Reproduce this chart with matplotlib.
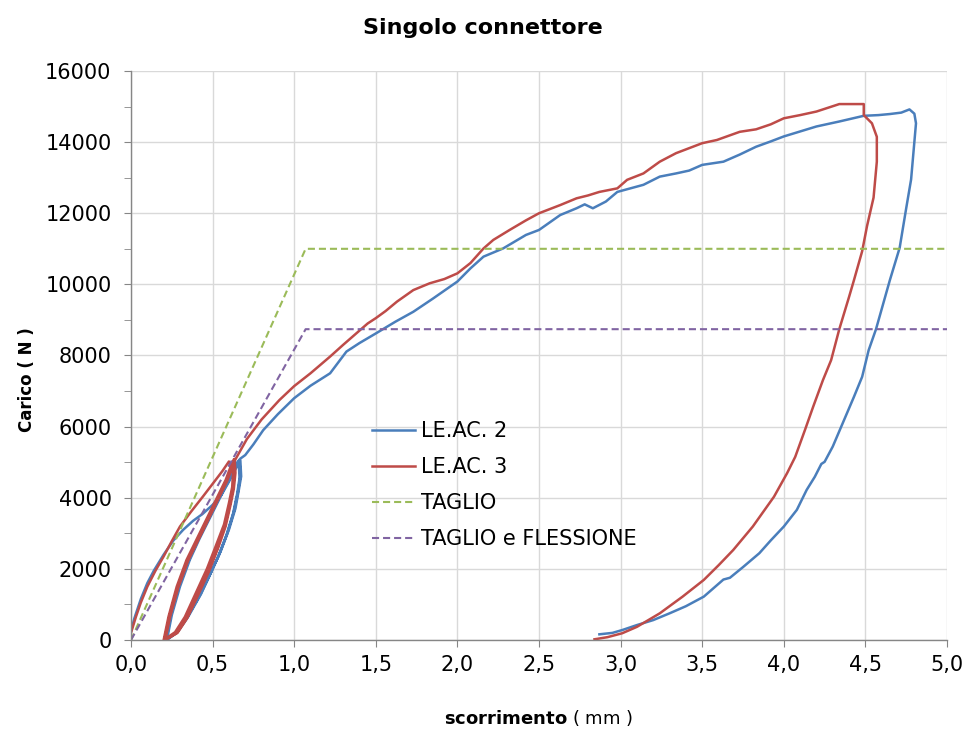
import numpy as np
import matplotlib
matplotlib.use("Agg")
import matplotlib.pyplot as plt
from matplotlib.ticker import MultipleLocator, FuncFormatter

# LE.AC. 2 : first loading, three unload/reload cycles, then loading to failure and unloading
leac2_x = [0.00, 0.02, 0.06, 0.10, 0.14, 0.20, 0.26, 0.32, 0.38, 0.44, 0.50, 0.55, 0.60, 0.64, 0.67,
           0.675, 0.66, 0.64, 0.60, 0.55, 0.49, 0.43, 0.35, 0.29, 0.22,
           0.235, 0.25, 0.30, 0.36, 0.42, 0.48, 0.54, 0.60, 0.64, 0.665,
           0.67, 0.655, 0.63, 0.59, 0.54, 0.48, 0.42, 0.34, 0.28, 0.215,
           0.23, 0.245, 0.29, 0.35, 0.41, 0.47, 0.53, 0.59, 0.63, 0.66,
           0.665, 0.65, 0.625, 0.585, 0.535, 0.475, 0.415, 0.335, 0.275, 0.21,
           0.225, 0.24, 0.285, 0.345, 0.405, 0.465, 0.525, 0.585, 0.625, 0.67,
           0.70, 0.75, 0.81, 0.90, 1.00, 1.10, 1.22, 1.32, 1.40, 1.50, 1.62, 1.73, 1.85,
           2.00, 2.08, 2.16, 2.28, 2.42, 2.50, 2.63, 2.73, 2.78, 2.83, 2.91, 2.98, 3.06,
           3.14, 3.24, 3.34, 3.42, 3.50, 3.63, 3.73, 3.83, 3.92, 4.00, 4.10, 4.20, 4.34,
           4.49, 4.58, 4.65, 4.72, 4.77, 4.80, 4.81, 4.80, 4.79, 4.78, 4.75, 4.71, 4.65,
           4.61, 4.565, 4.52, 4.48, 4.43, 4.36, 4.30, 4.25, 4.23, 4.19, 4.14, 4.08, 4.00,
           3.92, 3.85, 3.75, 3.67, 3.63, 3.51, 3.40, 3.30, 3.20, 3.10, 3.01, 2.95, 2.87]
leac2_y = [250, 600, 1150, 1600, 1950, 2400, 2800, 3100, 3350, 3550, 3800, 4050, 4450, 4800, 5050,
           4600, 4200, 3700, 3100, 2500, 1900, 1300, 650, 250, 0,
           350, 700, 1500, 2250, 2850, 3400, 3950, 4500, 4900, 5050,
           4600, 4150, 3600, 3000, 2400, 1800, 1250, 600, 200, 0,
           350, 700, 1450, 2200, 2800, 3350, 3900, 4450, 4850, 5000,
           4550, 4100, 3550, 2950, 2350, 1750, 1200, 580, 190, 0,
           350, 700, 1450, 2200, 2800, 3350, 3900, 4450, 4850, 5100,
           5200, 5500, 5900, 6350, 6800, 7150, 7500, 8110, 8350, 8620, 8950, 9230, 9600,
           10080, 10450, 10780, 11010, 11390, 11530, 11950, 12140, 12250, 12140, 12330, 12600, 12700,
           12800, 13030, 13120, 13200, 13360, 13450, 13650, 13870, 14020, 14160, 14300, 14440, 14580,
           14740, 14760, 14790, 14830, 14920, 14800, 14530, 14000, 13500, 12950, 12140, 11030, 10120,
           9470, 8740, 8150, 7400, 6840, 6090, 5440, 5010, 4950, 4590, 4220, 3660, 3190,
           2800, 2440, 2050, 1750, 1700, 1220, 950, 750, 560, 420, 280, 200, 160]

# LE.AC. 3
leac3_x = [0.00, 0.03, 0.06, 0.10, 0.15, 0.20, 0.25, 0.30, 0.37, 0.44, 0.51, 0.56, 0.60,
           0.625, 0.62, 0.60, 0.57, 0.52, 0.465, 0.40, 0.33, 0.27, 0.20,
           0.215, 0.23, 0.28, 0.34, 0.40, 0.46, 0.52, 0.58, 0.61, 0.63,
           0.635, 0.625, 0.605, 0.575, 0.53, 0.475, 0.41, 0.34, 0.28, 0.205,
           0.22, 0.235, 0.285, 0.345, 0.405, 0.465, 0.525, 0.585, 0.615, 0.635,
           0.64, 0.63, 0.61, 0.58, 0.535, 0.48, 0.415, 0.345, 0.285, 0.21,
           0.225, 0.24, 0.29, 0.35, 0.41, 0.47, 0.53, 0.59, 0.62, 0.64,
           0.71, 0.80, 0.91, 1.00, 1.10, 1.22, 1.30, 1.38, 1.45, 1.50, 1.56, 1.63, 1.73,
           1.83, 1.92, 2.00, 2.08, 2.16, 2.22, 2.32, 2.42, 2.50, 2.63, 2.73, 2.80, 2.87,
           2.98, 3.04, 3.14, 3.24, 3.34, 3.42, 3.50, 3.59, 3.73, 3.83, 3.92, 4.00, 4.10,
           4.20, 4.34, 4.49, 4.49, 4.54, 4.57, 4.57, 4.55, 4.51, 4.48, 4.43, 4.40, 4.34,
           4.29, 4.24, 4.18, 4.13, 4.07, 4.02, 3.94, 3.81, 3.69, 3.60, 3.51, 3.38, 3.24,
           3.10, 3.01, 2.92, 2.84]
leac3_y = [200, 650, 1050, 1500, 1950, 2350, 2780, 3190, 3620, 4030, 4450, 4750, 5020,
           4700, 4300, 3850, 3250, 2650, 2000, 1350, 650, 220, 0,
           330, 660, 1500, 2250, 2810, 3375, 3940, 4500, 4870, 5080,
           4700, 4250, 3800, 3200, 2600, 1950, 1300, 620, 200, 0,
           330, 660, 1480, 2230, 2790, 3350, 3920, 4480, 4850, 5080,
           4700, 4250, 3800, 3200, 2600, 1950, 1300, 620, 200, 0,
           330, 660, 1480, 2230, 2790, 3350, 3920, 4480, 4850, 5080,
           5650, 6200, 6750, 7140, 7500, 7970, 8300, 8620, 8900, 9050, 9250, 9516, 9840,
           10030, 10150, 10310, 10600, 11010, 11250, 11530, 11800, 12000, 12230, 12420, 12500, 12600,
           12700, 12940, 13120, 13450, 13690, 13830, 13970, 14060, 14290, 14360, 14500, 14670, 14760,
           14860, 15070, 15070, 14760, 14530, 14150, 13450, 12440, 11640, 10930, 10120, 9650, 8740,
           7870, 7310, 6560, 5910, 5150, 4690, 4030, 3190, 2530, 2100, 1690, 1220, 750,
           370, 190, 80, 20]

# design lines
taglio_x = [0.0, 1.07, 5.0]
taglio_y = [0, 11000, 11000]
flex_x = [0.0, 1.07, 5.0]
flex_y = [0, 8740, 8740]

labels = ["LE.AC. 2", "LE.AC. 3", "TAGLIO", "TAGLIO e FLESSIONE"]
colors = ["#4a7ebb", "#be4b48", "#9bbb59", "#8064a2"]

W, H = 965, 731
fig = plt.figure(figsize=(W / 100, H / 100), dpi=100)
ax = fig.add_axes([131 / W, 1 - 640 / H, 816 / W, 569 / H])

ax.plot(leac2_x, leac2_y, color=colors[0], lw=1.8, label=labels[0], solid_joinstyle="round")
ax.plot(leac3_x, leac3_y, color=colors[1], lw=1.8, label=labels[1], solid_joinstyle="round")
ax.plot(taglio_x, taglio_y, color=colors[2], lw=1.5, ls=(0, (3.4, 1.9)), label=labels[2])
ax.plot(flex_x, flex_y, color=colors[3], lw=1.5, ls=(0, (3.4, 1.9)), label=labels[3])

ax.set_xlim(0, 5)
ax.set_ylim(0, 16000)
ax.xaxis.set_major_locator(MultipleLocator(0.5))
ax.yaxis.set_major_locator(MultipleLocator(2000))
ax.yaxis.set_minor_locator(MultipleLocator(1000))
ax.xaxis.set_major_formatter(FuncFormatter(lambda v, p: ("%.1f" % v).replace(".", ",")))
ax.yaxis.set_major_formatter(FuncFormatter(lambda v, p: "%d" % v))

ax.grid(True, which="major", color="#d9d9d9", lw=1)
ax.set_axisbelow(True)
for s in ["top", "right"]:
    ax.spines[s].set_visible(False)
for s in ["left", "bottom"]:
    ax.spines[s].set_color("#868686")
    ax.spines[s].set_linewidth(1)
ax.tick_params(axis="both", which="both", direction="out", length=5, color="#868686",
               labelsize=15, labelcolor="#000000")
ax.tick_params(axis="y", pad=9)
ax.tick_params(axis="x", pad=6)

leg = ax.legend(loc="upper left", bbox_to_anchor=(0.295, 0.385), frameon=False, fontsize=15,
                handlelength=2.1, handletextpad=0.25, labelspacing=0.77,
                borderaxespad=0, borderpad=0)

fig.text(0.5, 1 - 28 / H, "Singolo connettore", ha="center", va="center",
         fontsize=16, fontweight="bold")
fig.text(539 / W, 1 - 718 / H, r"$\mathbf{scorrimento}$ ( mm )", ha="center", va="center",
         fontsize=13)
fig.text(27 / W, 1 - 380 / H, "Carico ( N )", ha="center", va="center", rotation=90,
         fontsize=12, fontweight="bold")

fig.savefig("out.png", dpi=100)
